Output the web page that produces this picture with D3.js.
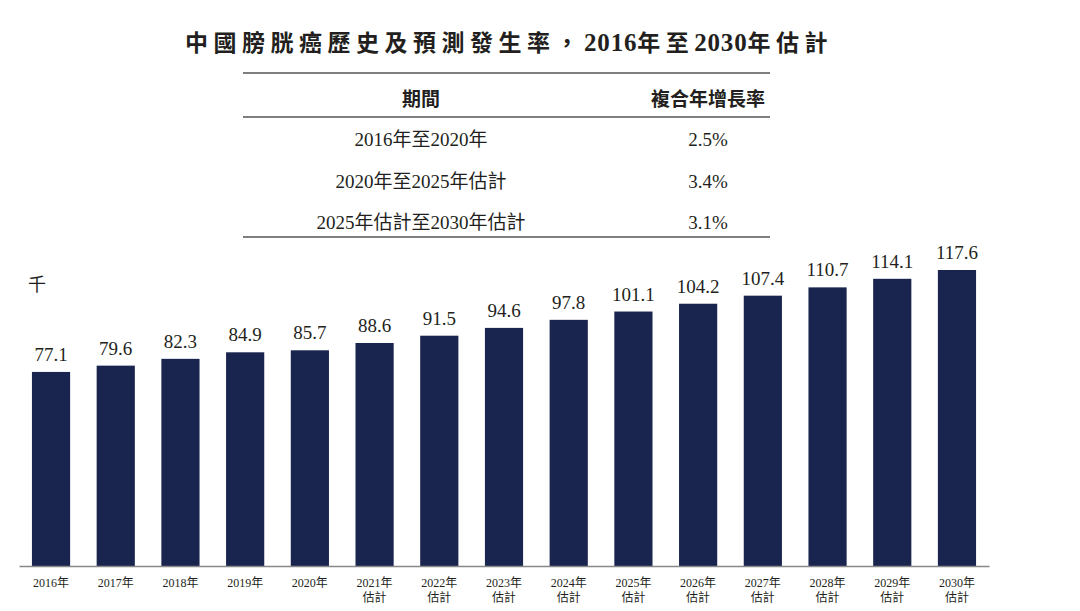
<!DOCTYPE html>
<html><head><meta charset="utf-8">
<script src="https://cdn.jsdelivr.net/npm/d3@7"></script>
<style>
body{margin:0;background:#fff;}
svg{display:block;}
</style></head>
<body>
<svg id="chart" width="1080" height="611"></svg>
<script>
const years = ["2016年","2017年","2018年","2019年","2020年","2021年","2022年","2023年","2024年","2025年","2026年","2027年","2028年","2029年","2030年"];
const estimateFlags = [false,false,false,false,false,true,true,true,true,true,true,true,true,true,true];
const values = [77.1,79.6,82.3,84.9,85.7,88.6,91.5,94.6,97.8,101.1,104.2,107.4,110.7,114.1,117.6];
const tablePeriods = ["2016年至2020年","2020年至2025年估計","2025年估計至2030年估計"];
const tableCagr = ["2.5%","3.4%","3.1%"];
const tableHeaders = ["期間","複合年增長率"];
const titleParts = ["中國膀胱癌歷史及預測發生率，","2016","年至","2030","年估計"];
const unitLabel = "千";

const svg = d3.select("#chart");
const serif = "'Liberation Serif','Times New Roman','Noto Sans CJK TC',serif";
const textColor = "#231f20";
const barColor = "#19254f";

// Title
const title = svg.append("text")
  .attr("x", 509).attr("y", 51)
  .attr("text-anchor", "middle")
  .attr("font-family", serif)
  .attr("font-weight", "bold")
  .attr("fill", textColor);
titleParts.forEach(p => {
  const isNum = /^\d+$/.test(p);
  title.append("tspan")
    .attr("font-size", isNum ? 25 : 23)
    .attr("letter-spacing", isNum ? 0.8 : 5.5)
    .text(p);
});

// Table
const tX0 = 243, tX1 = 770;
const col1 = 421, col2 = 708;
const lineColor = "#555";
[[73,1.5],[117,1.5],[237,1.5]].forEach(([y,w]) => {
  svg.append("line").attr("x1", tX0).attr("x2", tX1).attr("y1", y).attr("y2", y)
    .attr("stroke", lineColor).attr("stroke-width", w);
});
svg.append("text").attr("x", col1).attr("y", 106).attr("text-anchor","middle")
  .attr("font-family", serif).attr("font-weight","bold").attr("font-size",19).attr("fill",textColor)
  .text(tableHeaders[0]);
svg.append("text").attr("x", col2).attr("y", 106).attr("text-anchor","middle")
  .attr("font-family", serif).attr("font-weight","bold").attr("font-size",19).attr("fill",textColor)
  .text(tableHeaders[1]);
const rowY = d3.scalePoint().domain(d3.range(tablePeriods.length)).range([146, 229]);
tablePeriods.forEach((p,i) => {
  svg.append("text").attr("x", col1).attr("y", rowY(i)).attr("text-anchor","middle")
    .attr("font-family", serif).attr("font-size",19).attr("fill",textColor).text(p);
  svg.append("text").attr("x", col2).attr("y", rowY(i)).attr("text-anchor","middle")
    .attr("font-family", serif).attr("font-size",19).attr("fill",textColor).text(tableCagr[i]);
});

// Unit label
svg.append("text").attr("x", 28).attr("y", 291)
  .attr("font-family", serif).attr("font-size", 18).attr("fill", textColor).text(unitLabel);

// Bars
const baseY = 566;
const x = d3.scaleBand().domain(years).range([19, 989]).paddingInner(0.41).paddingOuter(0.2);
const y = d3.scaleLinear().domain([0, 117.6]).range([baseY, 270]);

svg.append("g").selectAll("rect").data(values).join("rect")
  .attr("x", (d,i) => x(years[i]))
  .attr("width", x.bandwidth())
  .attr("y", d => y(d))
  .attr("height", d => baseY - y(d))
  .attr("fill", barColor);

svg.append("g").selectAll("text").data(values).join("text")
  .attr("x", (d,i) => x(years[i]) + x.bandwidth()/2)
  .attr("y", d => y(d) - 11)
  .attr("text-anchor", "middle")
  .attr("font-family", serif).attr("font-size", 19).attr("fill", textColor)
  .text(d => d.toFixed(1));

// Axis
const axis = d3.axisBottom(x).tickSize(0).tickFormat("");
const gAxis = svg.append("g").attr("transform", `translate(0,${baseY})`).call(axis);
gAxis.select(".domain").attr("stroke", "#888").attr("stroke-width", 1.5);

const labels = svg.append("g").selectAll("text").data(years).join("text")
  .attr("x", d => x(d) + x.bandwidth()/2)
  .attr("y", baseY + 21)
  .attr("text-anchor", "middle")
  .attr("font-family", serif).attr("font-size", 12).attr("fill", textColor);
labels.append("tspan").attr("x", d => x(d) + x.bandwidth()/2).text(d => d);
labels.filter((d,i) => estimateFlags[i]).append("tspan")
  .attr("x", d => x(d) + x.bandwidth()/2).attr("dy", 15).text("估計");
</script>
</body></html>
